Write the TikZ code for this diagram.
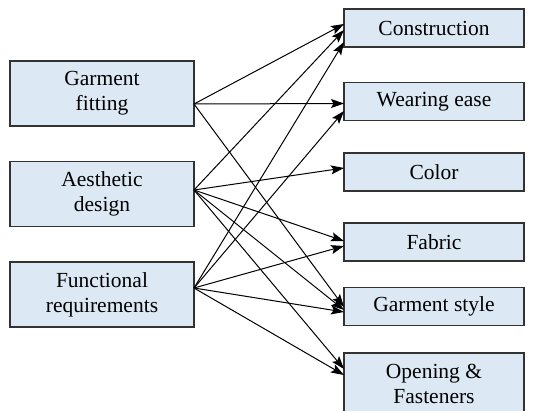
\documentclass[tikz,border=0pt]{standalone}
\usepackage{fontspec}
\setmainfont{Liberation Serif}
\newfontfamily\labelfont{Liberation Serif}
\usetikzlibrary{arrows.meta}
\definecolor{boxfill}{RGB}{220,232,243}
\definecolor{boxline}{RGB}{50,50,50}

\begin{document}
\begin{tikzpicture}[
  x=1pt, y=-1pt,
  factor/.style={draw=boxline, line width=1.4pt, fill=boxfill, minimum width=184pt,
    minimum height=65pt, inner sep=0pt, outer sep=0pt, align=center,
    font=\labelfont\fontsize{21.5}{25}\selectfont},
  aspect/.style={factor, minimum width=180pt, minimum height=38pt},
  link/.style={-{Stealth[length=13pt,width=9pt,inset=2.5pt]}, line width=1pt}
]
  \useasboundingbox (0,0) rectangle (535,410);

  \foreach \i/\y/\txt in {1/93.5/{Garment\\fitting}, 2/194/{Aesthetic\\design},
                          3/294.5/{Functional\\requirements}}
    \node[factor] (L-\i) at (102, \y) {\txt};

  \foreach \j/\y/\txt in {1/28/Construction, 2/101.5/Wearing ease, 3/172/Color,
                          4/242/Fabric, 5/306.5/Garment style}
    \node[aspect] (R-\j) at (434, \y) {\txt};
  \node[aspect, minimum height=61pt] (R-6) at (434, 383.5) {Opening \&\\Fasteners};

  % source/shift/target/shift
  \foreach \i/\u/\j/\v in {1/-10.5/1/4, 1/-10.5/2/-2, 1/-10.5/5/-0.5,
                           2/4/1/-2, 2/4/3/4, 2/4/4/1, 2/4/5/-3.5, 2/4/6/14.5,
                           3/6.5/1/-14, 3/6.5/2/-9.5, 3/6.5/4/-4, 3/6.5/5/-5.5, 3/6.5/6/8.5}
    \draw[link] ([yshift=\u pt]L-\i.east) -- ([yshift=\v pt]R-\j.west);
\end{tikzpicture}
\end{document}
